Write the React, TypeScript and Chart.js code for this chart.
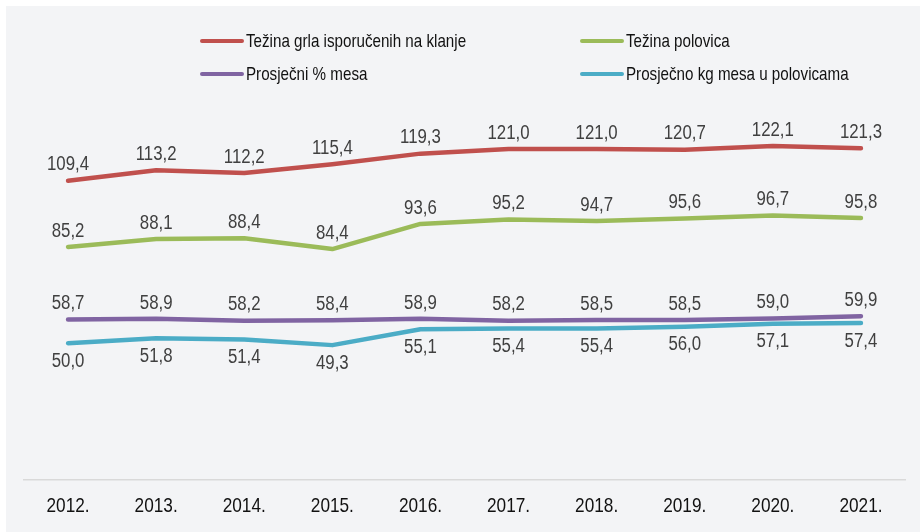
import React, { useEffect, useRef } from "react";
import { Chart, registerables } from "chart.js";

Chart.register(...registerables);

const years = ["2012.", "2013.", "2014.", "2015.", "2016.", "2017.", "2018.", "2019.", "2020.", "2021."];
const tezinaGrla = [109.4, 113.2, 112.2, 115.4, 119.3, 121.0, 121.0, 120.7, 122.1, 121.3];
const tezinaPolovica = [85.2, 88.1, 88.4, 84.4, 93.6, 95.2, 94.7, 95.6, 96.7, 95.8];
const prosjecniPostotak = [58.7, 58.9, 58.2, 58.4, 58.9, 58.2, 58.5, 58.5, 59.0, 59.9];
const prosjecnoKg = [50.0, 51.8, 51.4, 49.3, 55.1, 55.4, 55.4, 56.0, 57.1, 57.4];

const seriesNames = [
  "Težina grla isporučenih na klanje",
  "Težina polovica",
  "Prosječni % mesa",
  "Prosječno kg mesa u polovicama",
];
const seriesColors = ["#c0504d", "#9bbb59", "#8064a2", "#4bacc6"];

const FONT = "'Liberation Sans', Arial, sans-serif";
const SQUEEZE = 0.82;

const fmt = (v: number) => v.toFixed(1).replace(".", ",");

function narrowText(ctx: CanvasRenderingContext2D, text: string, x: number, y: number) {
  ctx.save();
  ctx.translate(x, y);
  ctx.scale(SQUEEZE, 1);
  ctx.fillText(text, 0, 0);
  ctx.restore();
}

const legendPlugin = {
  id: "gridLegend",
  afterDraw(chart: any) {
    const ctx = chart.ctx;
    const cols = [194, 574];
    const rows = [35, 68];
    ctx.save();
    chart.data.datasets.forEach((ds: any, i: number) => {
      const x = cols[i % 2];
      const y = rows[Math.floor(i / 2)];
      ctx.strokeStyle = ds.borderColor;
      ctx.lineWidth = 4;
      ctx.lineCap = "round";
      ctx.beginPath();
      ctx.moveTo(x + 2, y);
      ctx.lineTo(x + 42, y);
      ctx.stroke();
      ctx.fillStyle = "#111111";
      ctx.font = `18.5px ${FONT}`;
      ctx.textAlign = "left";
      ctx.textBaseline = "middle";
      narrowText(ctx, ds.label, x + 46, y + 1);
    });
    ctx.restore();
  },
};

const axisLabelPlugin = {
  id: "yearLabels",
  afterDraw(chart: any) {
    const ctx = chart.ctx;
    const xs = chart.scales.x;
    ctx.save();
    ctx.font = `21px ${FONT}`;
    ctx.fillStyle = "#111111";
    ctx.textAlign = "center";
    ctx.textBaseline = "middle";
    (chart.data.labels as string[]).forEach((lab, i) => {
      narrowText(ctx, lab, xs.getPixelForValue(i), xs.bottom - 26);
    });
    ctx.restore();
  },
};

const labelPlugin = {
  id: "pointLabels",
  afterDatasetsDraw(chart: any) {
    const ctx = chart.ctx;
    ctx.save();
    ctx.font = `20.5px ${FONT}`;
    ctx.fillStyle = "#404040";
    ctx.textAlign = "center";
    ctx.textBaseline = "middle";
    chart.data.datasets.forEach((ds: any, i: number) => {
      const meta = chart.getDatasetMeta(i);
      const below = i === 3;
      meta.data.forEach((pt: any, j: number) => {
        const off = below ? 18 : -16;
        narrowText(ctx, fmt(ds.data[j]), pt.x, pt.y + off);
      });
    });
    ctx.restore();
  },
};

export default function App() {
  const ref = useRef<HTMLCanvasElement>(null);
  useEffect(() => {
    document.body.style.margin = "0";
    const data = [tezinaGrla, tezinaPolovica, prosjecniPostotak, prosjecnoKg];
    const chart = new Chart(ref.current!, {
      type: "line",
      data: {
        labels: years,
        datasets: data.map((d, i) => ({
          label: seriesNames[i],
          data: d,
          borderColor: seriesColors[i],
          backgroundColor: seriesColors[i],
          borderWidth: 4.5,
          pointRadius: 0,
          tension: 0,
          borderCapStyle: "round" as const,
          borderJoinStyle: "round" as const,
        })),
      },
      options: {
        animation: false,
        responsive: false,
        maintainAspectRatio: false,
        layout: { padding: { top: 91, left: 18, right: 15, bottom: 0 } },
        plugins: {
          legend: { display: false },
          tooltip: { enabled: false },
        },
        scales: {
          x: {
            offset: true,
            grid: { display: false, drawTicks: false },
            border: { display: true, color: "#d9d9d9", width: 1.5 },
            ticks: { display: false },
            afterFit: (s: any) => {
              s.height = 52;
            },
          },
          y: {
            display: false,
            min: 0,
            max: 140,
          },
        },
      },
      plugins: [legendPlugin, labelPlugin, axisLabelPlugin],
    });
    return () => chart.destroy();
  }, []);
  return (
    <div style={{ position: "relative", width: 920, height: 532, background: "#ffffff" }}>
      <div style={{ position: "absolute", left: 6, top: 6, width: 914, height: 526, background: "#f3f4f6" }}>
        <canvas ref={ref} width={914} height={526} style={{ display: "block" }} />
      </div>
    </div>
  );
}
